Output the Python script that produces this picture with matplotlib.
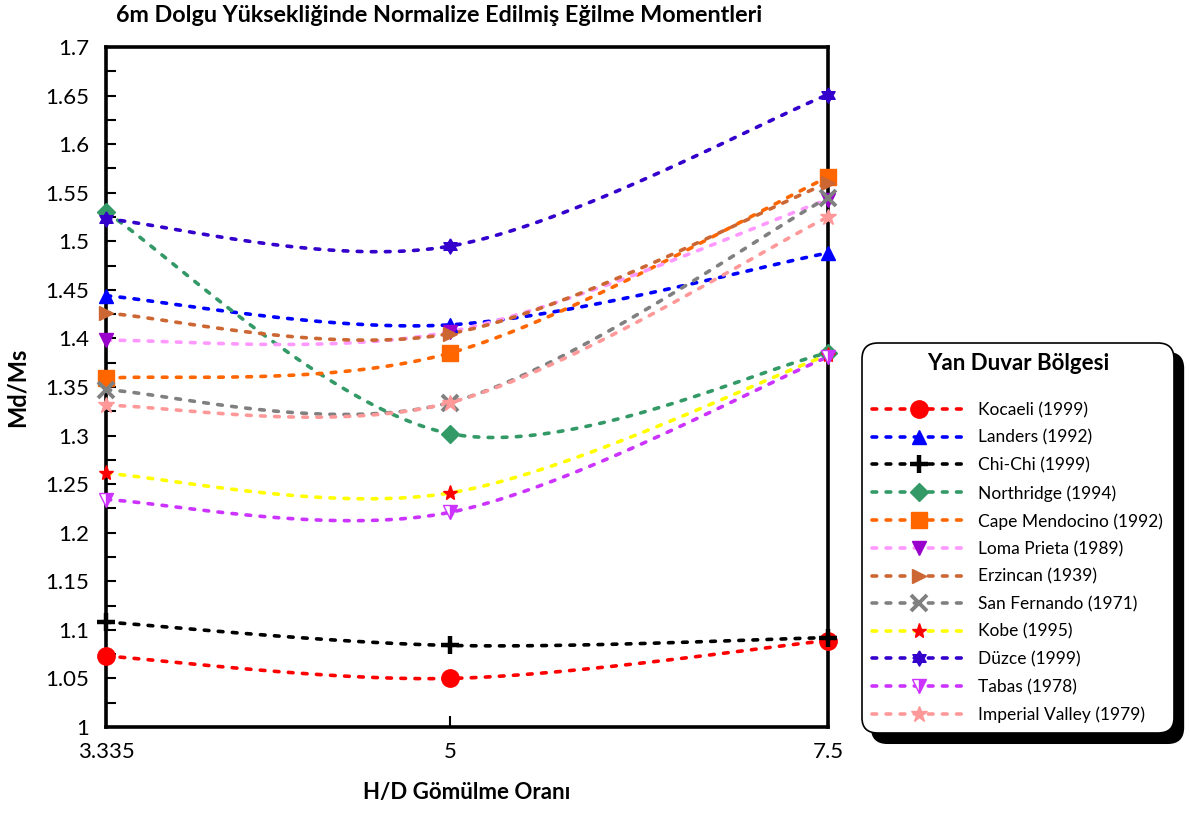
import numpy as np
import matplotlib
matplotlib.use("Agg")
import matplotlib.pyplot as plt
from matplotlib.lines import Line2D
from matplotlib.patches import Shadow
from matplotlib.ticker import MultipleLocator, FuncFormatter

plt.rcParams['font.family'] = ['Lato', 'DejaVu Sans']

# H/D embedment ratios
hd = [3.335, 5, 7.5]
hd_labels = ["3.335", "5", "7.5"]

# Normalised bending moments Md/Ms per earthquake record
kocaeli = [1.073, 1.050, 1.089]
landers = [1.444, 1.414, 1.488]
chichi = [1.108, 1.084, 1.092]
northridge = [1.530, 1.302, 1.385]
cape_mendocino = [1.359, 1.385, 1.566]
loma_prieta = [1.398, 1.407, 1.543]
erzincan = [1.426, 1.405, 1.560]
san_fernando = [1.347, 1.334, 1.545]
kobe = [1.261, 1.241, 1.383]
duzce = [1.523, 1.495, 1.651]
tabas = [1.234, 1.221, 1.381]
imperial_valley = [1.331, 1.334, 1.525]

names = ["Kocaeli (1999)", "Landers (1992)", "Chi-Chi (1999)", "Northridge (1994)",
         "Cape Mendocino (1992)", "Loma Prieta (1989)", "Erzincan (1939)",
         "San Fernando (1971)", "Kobe (1995)", "Düzce (1999)", "Tabas (1978)",
         "Imperial Valley (1979)"]
values = [kocaeli, landers, chichi, northridge, cape_mendocino, loma_prieta,
          erzincan, san_fernando, kobe, duzce, tabas, imperial_valley]

# six-pointed star marker
ang_out = np.deg2rad(90 + 60 * np.arange(6))
ang_in = ang_out + np.deg2rad(30)
r_in = 1 / np.sqrt(3)
hexagram = []
for ao, ai in zip(ang_out, ang_in):
    hexagram.append((np.cos(ao), np.sin(ao)))
    hexagram.append((r_in * np.cos(ai), r_in * np.sin(ai)))
hexagram.append(hexagram[0])

styles = [
    dict(lc='#FF0000', marker='o', mfc='#FF0000', mec='#FF0000', ms=12.5),
    dict(lc='#0000FF', marker='^', mfc='#0000FF', mec='#0000FF', ms=10),
    dict(lc='#000000', marker='+', mfc='#000000', mec='#000000', ms=13, mew=3.2),
    dict(lc='#339966', marker='D', mfc='#339966', mec='#339966', ms=9),
    dict(lc='#FF6600', marker='s', mfc='#FF6600', mec='#FF6600', ms=12),
    dict(lc='#FF99FF', marker='v', mfc='#9900CC', mec='#9900CC', ms=10),
    dict(lc='#CC6633', marker='>', mfc='#CC6633', mec='#CC6633', ms=10),
    dict(lc='#808080', marker='x', mfc='#808080', mec='#808080', ms=11, mew=2.8),
    dict(lc='#FFFF00', marker='*', mfc='#FF0000', mec='#FF0000', ms=11),
    dict(lc='#3300CC', marker=hexagram, mfc='#3300CC', mec='#3300CC', ms=11),
    dict(lc='#CC33FF', marker='v', mfc='#CC33FF', mec='#CC33FF', ms=10,
         fillstyle='right', mfcalt='white'),
    dict(lc='#FF9999', marker='*', mfc='#FF9999', mec='#FF9999', ms=12),
]

# horizontal layout of the category axis (fraction of axis width)
hd_pos = [0.0, 0.4765, 1.0]


def fwd(x):
    return np.interp(x, hd, hd_pos)


def inv(u):
    return np.interp(u, hd_pos, hd)


def smooth_curve(u, y, n=60):
    """Bezier smoothing through the points (control arms = 1/6 of neighbour chord)."""
    P = np.column_stack([u, y])
    m = len(P)
    out = []
    for i in range(m - 1):
        p0, p3 = P[i], P[i + 1]
        pm = P[i - 1] if i > 0 else P[i]
        pp = P[i + 2] if i + 2 < m else P[i + 1]
        c1 = p0 + (p3 - pm) / 6.0
        c2 = p3 - (pp - p0) / 6.0
        t = np.linspace(0, 1, n)[:, None]
        seg = ((1 - t) ** 3) * p0 + 3 * ((1 - t) ** 2) * t * c1 + 3 * (1 - t) * t ** 2 * c2 + t ** 3 * p3
        out.append(seg if i == 0 else seg[1:])
    out = np.vstack(out)
    return out[:, 0], out[:, 1]


W, H = 1190, 814
fig = plt.figure(figsize=(W / 100, H / 100), dpi=100)
ax = fig.add_axes([106 / W, 1 - 727 / H, (828 - 106) / W, (727 - 47) / H])
ax.set_xscale('function', functions=(fwd, inv))
ax.set_xlim(hd[0], hd[-1])
ax.set_ylim(1.0, 1.7)

dash = (0, (1.3, 2.6))
handles = []
for name, vals, st in zip(names, values, styles):
    uu, yy = smooth_curve(fwd(np.array(hd)), np.array(vals))
    ax.plot(inv(uu), yy, color=st['lc'], lw=2.6, linestyle=dash,
            dash_capstyle='round', zorder=2, clip_on=False)
    mk = dict(marker=st['marker'], markersize=st['ms'], markerfacecolor=st['mfc'],
              markeredgecolor=st['mec'], markeredgewidth=st.get('mew', 1.0),
              fillstyle=st.get('fillstyle', 'full'))
    if 'mfcalt' in st:
        mk['markerfacecoloralt'] = st['mfcalt']
    ax.plot(hd, vals, linestyle='none', zorder=3, clip_on=False, **mk)
    handles.append(Line2D([], [], color=st['lc'], lw=2.6, linestyle=dash,
                          dash_capstyle='round', label=name, **mk))

# axes styling
for sp in ax.spines.values():
    sp.set_linewidth(2.6)
    sp.set_color('black')
ax.set_xticks(hd)
ax.set_xticklabels(hd_labels)
ax.yaxis.set_major_locator(MultipleLocator(0.05))
ax.yaxis.set_minor_locator(MultipleLocator(0.025))
ax.yaxis.set_major_formatter(FuncFormatter(lambda v, p: f"{round(v, 3):g}"))
ax.tick_params(axis='both', which='both', direction='in', width=1.5, labelsize=16)
ax.tick_params(axis='y', which='both', length=7, pad=12)
ax.tick_params(axis='x', which='major', length=8, pad=11)

fig.text(439 / W, 1 - 16 / H, "6m Dolgu Yüksekliğinde Normalize Edilmiş Eğilme Momentleri",
         fontsize=16.8, fontweight='bold', ha='center', va='center')
ax.set_xlabel("H/D Gömülme Oranı", fontsize=16, fontweight='bold', labelpad=14)
ax.set_ylabel("Md/Ms", fontsize=17, fontweight='bold', labelpad=12)

leg = fig.legend(handles=handles, loc='upper left',
                 bbox_to_anchor=(862 / W, 1 - 343 / H), borderaxespad=0,
                 title="Yan Duvar Bölgesi",
                 title_fontproperties={'weight': 'bold', 'size': 16},
                 fontsize=12.5, numpoints=1, handlelength=5.4, handletextpad=0.7,
                 labelspacing=0.66, borderpad=0.6, frameon=True, fancybox=True,
                 edgecolor='black', framealpha=1)
leg.get_frame().set_linewidth(1.2)
leg.get_frame().set_boxstyle('round', pad=0.0, rounding_size=0.9)
leg._legend_box.sep = 20
leg.set_zorder(5)

fig.canvas.draw()
shadow = Shadow(leg.legendPatch, 7, -7, facecolor='black', edgecolor='black', alpha=1)
shadow.set_zorder(4)
fig.add_artist(shadow)

fig.savefig("out.png", dpi=100)
